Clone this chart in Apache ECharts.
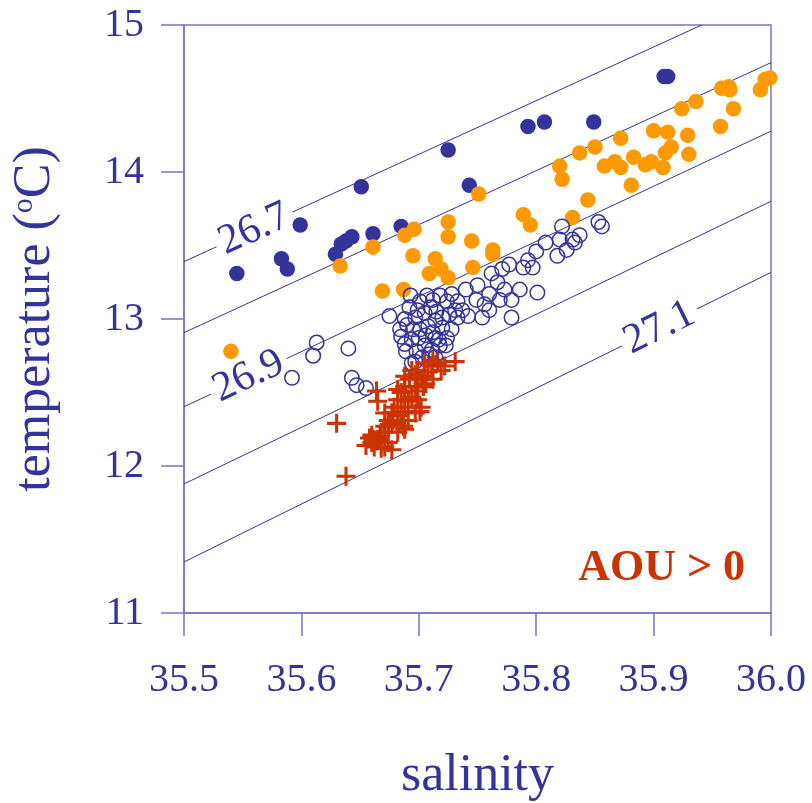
<!DOCTYPE html>
<html><head><meta charset="utf-8">
<script src="https://cdn.jsdelivr.net/npm/echarts@6/dist/echarts.min.js"></script>
<style>html,body{margin:0;padding:0;background:#fff}#c{width:812px;height:803px}</style>
</head><body><div id="c"></div>
<script>
const salinityTicks = [35.5, 35.6, 35.7, 35.8, 35.9, 36.0];
const temperatureTicks = [11, 12, 13, 14, 15];

const navyFilled = [
  [35.545,13.31],[35.583,13.41],[35.588,13.34],[35.599,13.64],[35.629,13.44],[35.634,13.51],
  [35.638,13.53],[35.643,13.56],[35.651,13.90],[35.661,13.58],[35.685,13.63],[35.725,14.15],
  [35.743,13.91],[35.793,14.31],[35.807,14.34],[35.849,14.34],[35.909,14.65],[35.912,14.65]
];

const orangeFilled = [
  [35.540,12.78],[35.633,13.36],[35.661,13.49],[35.669,13.19],[35.687,13.20],[35.688,13.57],
  [35.696,13.61],[35.695,13.43],[35.725,13.66],[35.725,13.56],[35.714,13.41],[35.709,13.31],
  [35.719,13.34],[35.725,13.28],[35.745,13.53],[35.746,13.35],[35.751,13.85],[35.763,13.47],
  [35.763,13.44],[35.789,13.71],[35.795,13.64],[35.820,14.04],[35.822,13.95],[35.837,14.13],
  [35.850,14.17],[35.844,13.81],[35.831,13.69],[35.858,14.04],[35.867,14.07],[35.872,14.03],
  [35.872,14.23],[35.883,14.10],[35.881,13.91],[35.893,14.05],[35.898,14.07],[35.900,14.28],
  [35.908,14.03],[35.912,14.27],[35.910,14.13],[35.915,14.17],[35.924,14.43],[35.929,14.25],
  [35.930,14.12],[35.936,14.48],[35.957,14.31],[35.958,14.57],[35.964,14.58],[35.965,14.56],
  [35.968,14.43],[35.991,14.56],[35.995,14.63],[35.999,14.64]
];

const navyOpen = [
  [35.592,12.60],[35.610,12.75],[35.613,12.84],[35.640,12.80],[35.643,12.60],[35.647,12.55],
  [35.655,12.53],[35.675,13.02],[35.685,12.88],[35.688,12.83],[35.694,12.70],
  [35.684,12.93],[35.692,13.08],[35.688,13.00],[35.697,13.01],[35.701,13.12],[35.707,13.16],
  [35.712,13.13],[35.718,13.16],[35.724,13.12],[35.728,13.17],[35.733,13.12],[35.737,13.06],
  [35.742,13.02],[35.701,12.93],[35.708,12.95],[35.714,12.99],[35.720,12.94],[35.724,12.87],
  [35.728,12.93],[35.705,12.82],[35.711,12.79],[35.718,12.82],[35.698,12.78],[35.694,12.86],
  [35.714,12.87],[35.733,13.01],[35.749,13.13],[35.756,13.10],[35.760,13.17],[35.767,13.25],
  [35.773,13.20],[35.779,13.13],[35.786,13.20],[35.762,13.31],[35.771,13.34],[35.777,13.37],
  [35.789,13.35],[35.797,13.35],[35.793,13.40],[35.800,13.46],[35.808,13.52],[35.818,13.43],
  [35.820,13.54],[35.826,13.47],[35.831,13.54],[35.833,13.52],[35.837,13.57],[35.822,13.63],
  [35.853,13.66],[35.856,13.63],[35.801,13.18],[35.779,13.01],[35.760,13.06],[35.769,13.13],
  [35.693,13.16],[35.699,13.06],[35.705,13.04],[35.710,13.08],[35.715,13.05],[35.720,13.01],
  [35.726,13.03],[35.731,13.06],[35.690,12.96],[35.695,12.93],[35.700,12.87],[35.706,12.89],
  [35.712,12.91],[35.717,12.86],[35.723,12.82],[35.709,12.76],[35.703,12.74],[35.714,12.74],
  [35.689,12.78],[35.697,12.71],[35.750,13.23],[35.740,13.20],[35.754,13.01]
];

const redCross = [
  [35.630,12.29],[35.638,11.93],[35.664,12.51],[35.665,12.44],[35.671,12.36],
  [35.658,12.19],[35.655,12.14],[35.660,12.16],[35.662,12.13],[35.664,12.17],[35.668,12.12],
  [35.677,12.11],[35.667,12.20],[35.671,12.23],[35.674,12.27],[35.677,12.29],[35.678,12.31],
  [35.682,12.34],[35.685,12.37],[35.688,12.40],[35.691,12.44],[35.694,12.47],[35.697,12.51],
  [35.699,12.54],[35.702,12.59],[35.705,12.61],[35.708,12.64],[35.711,12.68],[35.716,12.70],
  [35.722,12.68],[35.731,12.71],[35.699,12.65],[35.697,12.62],[35.692,12.59],[35.688,12.54],
  [35.685,12.50],[35.682,12.45],[35.679,12.40],[35.677,12.36],[35.674,12.31],[35.671,12.27],
  [35.668,12.23],[35.665,12.18],[35.682,12.23],[35.687,12.27],[35.691,12.31],[35.697,12.36],
  [35.701,12.37],[35.702,12.40],[35.699,12.45],[35.704,12.54],[35.706,12.56],[35.712,12.59],
  [35.719,12.65],[35.705,12.70],[35.712,12.72],[35.694,12.65],[35.688,12.61],[35.682,12.52],
  [35.671,12.13],[35.674,12.16],[35.660,12.21],[35.661,12.18],[35.685,12.31],[35.688,12.25]
];

const iso267 = [[35.5,13.39],[35.941,15.0]];
const iso268 = [[35.5,12.907],[36.0,14.744]];
const iso269 = [[35.5,12.403],[36.0,14.278]];
const iso270 = [[35.5,11.878],[36.0,13.801]];
const iso271 = [[35.5,11.347],[36.0,13.317]];
const isoLabels = ['26.7', '26.9', '27.1'];
const isoLabelPos = [[35.560,13.61],[35.555,12.61],[35.905,12.94]];

const NAVY = '#333399', ORANGE = '#ff9900', RED = '#cc3300', AXIS = '#7676c4';
const FONT = '"Liberation Serif", "Times New Roman", serif';
const labelAngles = [24.5, 25.1, 26.2];

const chart = echarts.init(document.getElementById('c'), null, {renderer: 'canvas'});

function isoSeries(d) {
  return {type: 'line', data: d, symbol: 'none', silent: true, z: 1,
    lineStyle: {color: NAVY, width: 1}, animation: false};
}

const option = {
  animation: false,
  backgroundColor: '#fff',
  grid: {left: 184, right: 41, top: 25, bottom: 190, show: true, borderColor: AXIS, borderWidth: 1.5,
    containLabel: false, outerBoundsMode: 'none'},
  xAxis: {
    type: 'value', min: salinityTicks[0], max: salinityTicks[salinityTicks.length - 1], interval: 0.1,
    name: 'salinity', nameLocation: 'middle', nameGap: 137,
    nameTextStyle: {fontFamily: FONT, fontSize: 52, color: NAVY},
    axisLine: {show: true, onZero: false, lineStyle: {color: AXIS, width: 1.5}},
    axisTick: {show: true, inside: false, length: 23, lineStyle: {color: AXIS, width: 1.5}},
    axisLabel: {margin: 47, fontFamily: FONT, fontSize: 40, color: NAVY, formatter: v => v.toFixed(1)},
    splitLine: {show: false}
  },
  yAxis: {
    type: 'value', min: temperatureTicks[0], max: temperatureTicks[temperatureTicks.length - 1], interval: 1,
    name: 'temperature ({s|o}C)', nameLocation: 'middle', nameGap: 123, nameRotate: 90,
    nameTextStyle: {fontFamily: FONT, fontSize: 52, color: NAVY,
      rich: {s: {fontFamily: FONT, fontSize: 30, color: NAVY, verticalAlign: 'top', lineHeight: 52}}},
    axisLine: {show: true, onZero: false, lineStyle: {color: AXIS, width: 1.5}},
    axisTick: {show: true, inside: false, length: 23, lineStyle: {color: AXIS, width: 1.5}},
    axisLabel: {margin: 40, fontFamily: FONT, fontSize: 40, color: NAVY},
    splitLine: {show: false}
  },
  series: [
    isoSeries(iso267), isoSeries(iso268), isoSeries(iso269), isoSeries(iso270), isoSeries(iso271),
    {
      type: 'scatter', z: 2, silent: true, symbolSize: 1,
      itemStyle: {color: '#fff', opacity: 1},
      data: isoLabelPos.map((p, i) => ({value: p, label: {show: true, position: 'inside',
        formatter: isoLabels[i], rotate: labelAngles[i], fontFamily: FONT, fontSize: 42, color: NAVY,
        opacity: 1, textBorderWidth: 0, backgroundColor: '#fff', padding: [0, 5]}}))
    },
    {type: 'scatter', z: 3, data: navyFilled, symbol: 'circle', symbolSize: 15.5,
      itemStyle: {color: NAVY, opacity: 1}},
    {type: 'scatter', z: 4, data: orangeFilled, symbol: 'circle', symbolSize: 15.5,
      itemStyle: {color: ORANGE, opacity: 1}},
    {type: 'scatter', z: 5, data: navyOpen, symbol: 'circle', symbolSize: 14.5,
      itemStyle: {color: 'rgba(0,0,0,0)', borderColor: NAVY, borderWidth: 1.5, opacity: 1}},
    {type: 'scatter', z: 6, data: redCross, symbol: 'path://M4.2,0H5.8V10H4.2Z M0,4.2H10V5.8H0Z',
      symbolSize: 19, itemStyle: {color: RED, opacity: 1}}
  ],
  graphic: [{
    type: 'text', x: 745, y: 569, z: 10,
    style: {text: 'AOU > 0', font: 'bold 44px "Liberation Serif", serif', fill: RED,
      align: 'right', verticalAlign: 'middle', textAlign: 'right', textVerticalAlign: 'middle'}
  }]
};
chart.setOption(option);
</script></body></html>
